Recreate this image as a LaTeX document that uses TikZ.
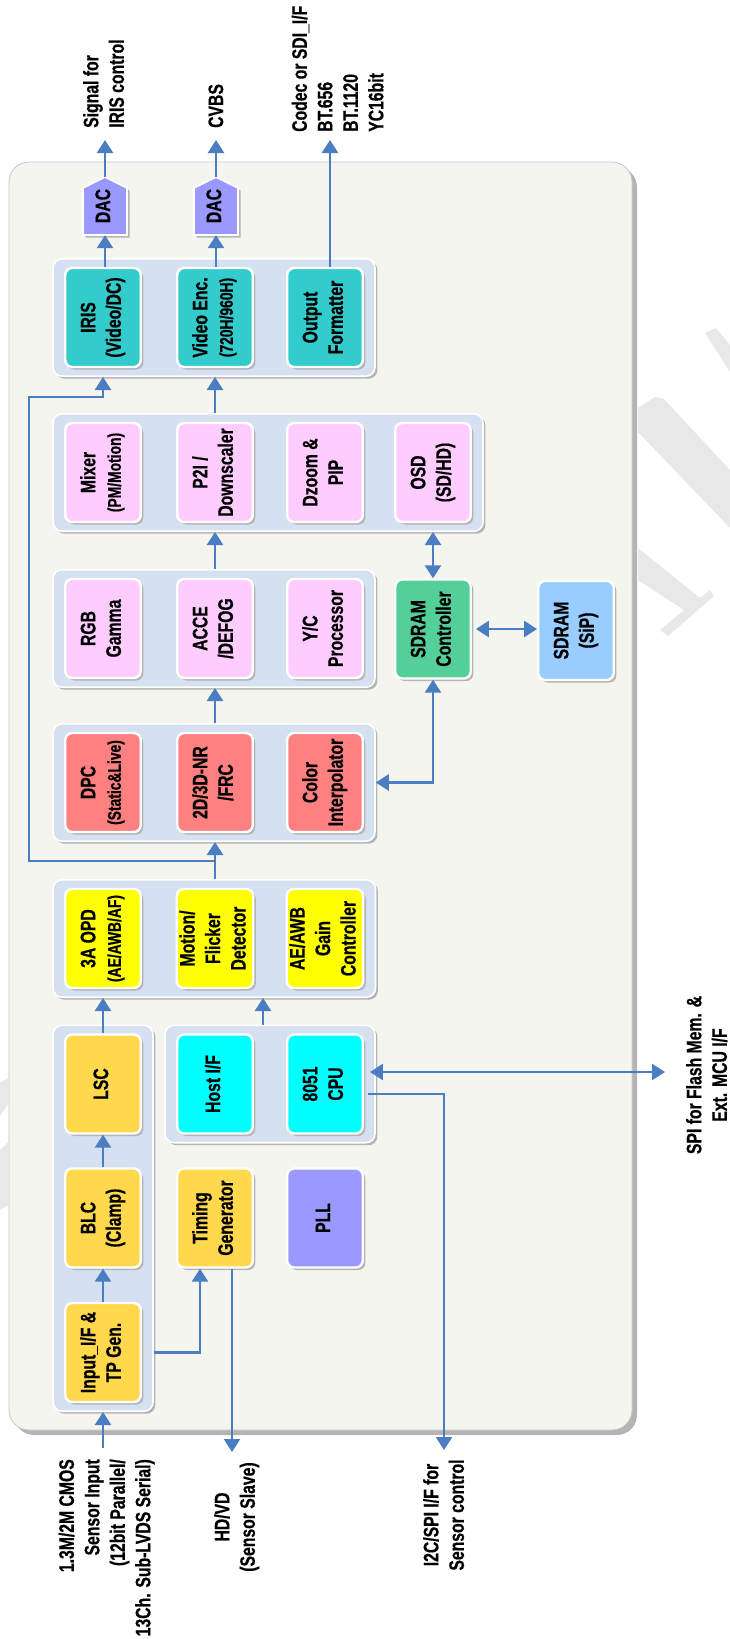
\documentclass[tikz,border=0pt]{standalone}
\usepackage{fontspec}
\setmainfont{Liberation Sans}[FakeStretch=0.75, BoldFeatures={FakeBold=0.6}]
\usepackage{graphicx}
\usepackage{tikz}
\usetikzlibrary{arrows.meta,positioning,shadows,fit,backgrounds}
\definecolor{chframe}{HTML}{F5F5F0}
\definecolor{chshade}{HTML}{B4B4B4}
\definecolor{chgroup}{HTML}{D5E0F0}
\definecolor{chline}{HTML}{4A7DC2}
\definecolor{chteal}{HTML}{33CCCC}
\definecolor{chpink}{HTML}{FFCCFF}
\definecolor{chred}{HTML}{FF8080}
\definecolor{chyellow}{HTML}{FFFF00}
\definecolor{chgold}{HTML}{FFD84C}
\definecolor{chcyan}{HTML}{00FFFF}
\definecolor{chviolet}{HTML}{9999FF}
\definecolor{chgreen}{HTML}{55CF99}
\definecolor{chsky}{HTML}{99CCFF}
\newcommand{\vt}[1]{\rotatebox{90}{\begin{tabular}{@{}c@{}}#1\end{tabular}}}
\newcommand{\vtl}[1]{\rotatebox{90}{\begin{tabular}{@{}l@{}}#1\end{tabular}}}
\newcommand{\vtr}[1]{\rotatebox{90}{\begin{tabular}{@{}r@{}}#1\end{tabular}}}
\newcommand{\smtxt}[1]{{\fontsize{18.5}{22}\selectfont #1}}
\tikzset{
  blockBox/.style={rounded corners=7pt, draw=white, line width=2.4pt, inner sep=0pt, minimum width=75.5pt, minimum height=99pt, font=\fontsize{21}{25.5}\selectfont\bfseries, drop shadow={shadow xshift=2.5pt, shadow yshift=-2.5pt, opacity=1, fill=chshade}},
  tealBox/.style={blockBox, fill=chteal},
  pinkBox/.style={blockBox, fill=chpink},
  redBox/.style={blockBox, fill=chred},
  yellowBox/.style={blockBox, fill=chyellow},
  goldBox/.style={blockBox, fill=chgold},
  cyanBox/.style={blockBox, fill=chcyan},
  violetBox/.style={blockBox, fill=chviolet},
  greenBox/.style={blockBox, fill=chgreen},
  skyBox/.style={blockBox, fill=chsky},
  groupBox/.style={rounded corners=9pt, draw=white, line width=1.6pt, fill=chgroup, inner xsep=11pt, inner ysep=8pt, drop shadow={shadow xshift=2.5pt, shadow yshift=-2.5pt, opacity=1, fill=chshade}},
  chipFrame/.style={rounded corners=20pt, draw=black!22, line width=0.8pt, fill=chframe, inner sep=0pt, drop shadow={shadow xshift=5pt, shadow yshift=-5pt, opacity=1, fill=chshade}},
  dacShape/.style={fill=chviolet, draw=white, line width=1.6pt, drop shadow={shadow xshift=2.5pt, shadow yshift=-2.5pt, opacity=1, fill=chshade}},
  dacText/.style={inner sep=0pt, minimum width=44pt, minimum height=58pt, font=\fontsize{21}{25.5}\selectfont\bfseries},
  pinLabel/.style={inner sep=0pt, font=\fontsize{21}{25.5}\selectfont\bfseries},
  dataLine/.style={line width=2.6pt, draw=chline},
  dataArrow/.style={dataLine, -{Triangle[length=13pt,width=16pt]}},
  dataBoth/.style={dataLine, {Triangle[length=13pt,width=16pt]}-{Triangle[length=13pt,width=16pt]}},
  markBand/.style={fill=black!9, draw=none}
}

\begin{document}
\begin{tikzpicture}[x=1pt,y=-1pt]
  \useasboundingbox (0,0) rectangle (730,1639);
  % output stage
  \node[tealBox] (iris) at (103,317.5) {\vt{IRIS\\(Video/DC)}};
  \node[tealBox] (venc) at (215,317.5) {\vt{Video Enc.\\\smtxt{(720H/960H)}}};
  \node[tealBox] (ofmt) at (325,317.5) {\vt{Output\\Formatter}};
  % mixer stage
  \node[pinkBox] (mixer) at (103,472.5) {\vt{Mixer\\\smtxt{(PM/Motion)}}};
  \node[pinkBox] (ptoi) at (215,472.5) {\vt{P2I /\\Downscaler}};
  \node[pinkBox] (dzoom) at (325,472.5) {\vt{Dzoom \&\\PIP}};
  \node[pinkBox] (osd) at (433,472.5) {\vt{OSD\\(SD/HD)}};
  % rgb stage
  \node[pinkBox] (rgbg) at (103,628.5) {\vt{RGB\\Gamma}};
  \node[pinkBox] (acce) at (215,628.5) {\vt{ACCE\\/DEFOG}};
  \node[pinkBox] (yc) at (325,628.5) {\vt{Y/C\\Processor}};
  % dpc stage
  \node[redBox] (dpc) at (103,782.5) {\vt{DPC\\\smtxt{(Static\&Live)}}};
  \node[redBox] (nr) at (215,782.5) {\vt{2D/3D-NR\\/FRC}};
  \node[redBox] (cint) at (325,782.5) {\vt{Color\\Interpolator}};
  % 3A stage
  \node[yellowBox] (opd) at (103,938.5) {\vt{3A OPD\\\smtxt{(AE/AWB/AF)}}};
  \node[yellowBox] (flick) at (215,938.5) {\vt{Motion/\\Flicker\\Detector}};
  \node[yellowBox] (gain) at (325,938.5) {\vt{AE/AWB\\Gain\\Controller}};
  % input chain, cpu, timing
  \node[goldBox] (lsc) at (103,1084) {\vt{LSC}};
  \node[goldBox] (blc) at (103,1218) {\vt{BLC\\(Clamp)}};
  \node[goldBox] (inif) at (103,1352.5) {\vt{Input\_I/F \&\\TP Gen.}};
  \node[cyanBox] (host) at (215,1084) {\vt{Host I/F}};
  \node[cyanBox] (cpu) at (325,1084) {\vt{8051\\CPU}};
  \node[goldBox] (tgen) at (215,1218) {\vt{Timing\\Generator}};
  \node[violetBox] (pll) at (325,1218) {\vt{PLL}};
  % memory
  \node[greenBox] (sdctl) at (433,629) {\vt{SDRAM\\Controller}};
  \node[skyBox] (sdram) at (576,630.5) {\vt{SDRAM\\(SiP)}};
  % DACs
  \foreach \nm/\x in {dac1/105,dac2/216}{
    \path[dacShape] (\x-22,235) -- (\x-22,188) -- (\x,177) -- (\x+22,188) -- (\x+22,235) -- cycle;
    \node[dacText] (\nm) at (\x,206) {\vt{DAC}};
  }

  \begin{scope}[on background layer]
    % watermark
    \fill[markBand] (655,397) -- (664,399) -- (730,470) -- (730,528) -- (638,432) -- (638,408) -- cycle;
    \fill[markBand] (705,333) -- (716,328) -- (730,345) -- (730,372) -- cycle;
    \fill[markBand] (638,548) -- (700,598) -- (710,590) -- (714,596) -- (668,636) -- (660,630) -- (684,610) -- (638,580) -- cycle;
    \fill[markBand] (0,1083) -- (8,1078) -- (8,1104) -- (0,1116) -- cycle;
    \fill[markBand] (0,1150) -- (8,1142) -- (8,1205) -- (0,1210) -- cycle;
    \node[chipFrame, minimum width=623pt, minimum height=1268pt] (chip) at (320.5,796) {};
    \node[groupBox, fit=(iris) (ofmt)] (gOut) {};
    \node[groupBox, fit=(mixer) (osd)] (gMix) {};
    \node[groupBox, fit=(rgbg) (yc)] (gRgb) {};
    \node[groupBox, fit=(dpc) (cint)] (gDpc) {};
    \node[groupBox, fit=(opd) (gain)] (gOpd) {};
    \node[groupBox, fit=(lsc) (inif)] (gIn) {};
    \node[groupBox, fit=(host) (cpu)] (gCpu) {};
  \end{scope}

  % pins
  \coordinate (sigIris) at (105,140);
  \coordinate (sigCvbs) at (216,140);
  \coordinate (sigCodec) at (330,140);
  \coordinate (sensIn) at (103,1448);
  \coordinate (hdvdOut) at (232,1452);
  \coordinate (i2cOut) at (444,1450);
  \coordinate (spiOut) at (665,1072);
  \coordinate (tap) at (215,861);
  \coordinate (railTop) at (29,397);

  \draw[dataArrow] (iris.north -| dac1) -- (dac1.south);
  \draw[dataArrow] (dac1.north) -- (sigIris);
  \draw[dataArrow] (venc.north -| dac2) -- (dac2.south);
  \draw[dataArrow] (dac2.north) -- (sigCvbs);
  \draw[dataArrow] (ofmt.north -| sigCodec) -- (sigCodec);
  \draw[dataArrow] (gMix.north -| ptoi) -- (gOut.south -| ptoi);
  \draw[dataArrow] (gRgb.north -| acce) -- (gMix.south -| acce);
  \draw[dataArrow] (gDpc.north -| nr) -- (gRgb.south -| nr);
  \draw[dataArrow] (gOpd.north -| flick) -- (gDpc.south -| flick);
  \draw[dataArrow] (tap) -| (railTop) -| (gOut.south -| iris);
  \draw[dataArrow] (lsc.north) -- (gOpd.south -| lsc);
  \draw[dataArrow] ([xshift=-7pt]gCpu.north) -- ([xshift=-7pt]gCpu.north |- gOpd.south);
  \draw[dataArrow] (blc.north) -- (lsc.south);
  \draw[dataArrow] (inif.north) -- (blc.south);
  \draw[dataArrow] (sensIn) -- (gIn.south -| sensIn);
  \draw[dataArrow] (gIn.east |- inif) -| ([xshift=-15pt]tgen.south);
  \draw[dataArrow] (tgen.south -| hdvdOut) -- (hdvdOut);
  \draw[dataBoth] ([shift={(6pt,12pt)}]cpu.east) -- (spiOut);
  \draw[dataArrow] ([shift={(4pt,-10pt)}]cpu.east) -| (i2cOut);
  \draw[dataBoth] (gMix.south -| sdctl) -- (sdctl.north);
  \draw[dataBoth] ([xshift=4pt]sdctl.east) -- (sdctl.east -| sdram.west);
  \draw[dataBoth] (sdctl.south) |- (gDpc.east |- cint);

  % labels
  \node[pinLabel, anchor=south] (lblIris) at (106,128) {\vtl{Signal for\\IRIS control}};
  \node[pinLabel, anchor=south] (lblCvbs) at (218,128) {\vtl{CVBS}};
  \node[pinLabel, anchor=south] (lblCodec) at (340,132) {\vtl{Codec or SDI\_I/F\\BT.656\\BT.1120\\YC16bit}};
  \node[pinLabel, anchor=north] (lblSens) at (107,1459) {\vtr{1.3M/2M CMOS\\Sensor Input\\(12bit Parallel/\\13Ch. Sub-LVDS Serial)}};
  \node[pinLabel] (lblHdvd) at (237,1517) {\vt{HD/VD\\(Sensor Slave)}};
  \node[pinLabel] (lblI2c) at (446,1515) {\vt{I2C/SPI I/F for\\Sensor control}};
  \node[pinLabel] (lblSpi) at (709,1075) {\vt{SPI for Flash Mem. \&\\Ext. MCU I/F}};
\end{tikzpicture}
\end{document}
